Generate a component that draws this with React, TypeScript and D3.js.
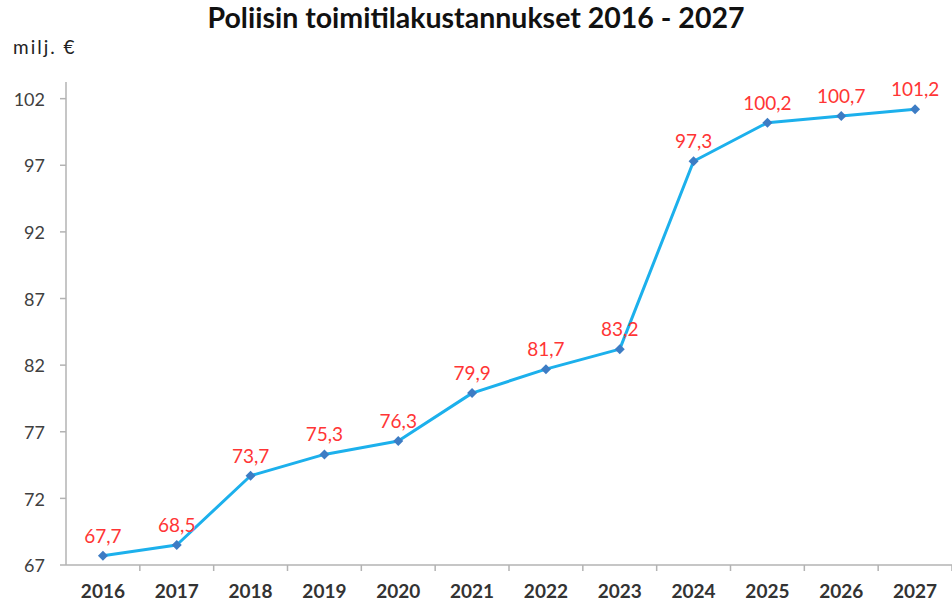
import React from "react";
import * as d3 from "d3";

const width = 952;
const height = 602;
const margin = { top: 82, right: 0, bottom: 37, left: 66 };

const years = ["2016", "2017", "2018", "2019", "2020", "2021", "2022", "2023", "2024", "2025", "2026", "2027"];
const costs = [67.7, 68.5, 73.7, 75.3, 76.3, 79.9, 81.7, 83.2, 97.3, 100.2, 100.7, 101.2];
const yTicks = [67, 72, 77, 82, 87, 92, 97, 102];

const font = "Lato, 'Open Sans', sans-serif";
const fmt = (v: number) => v.toFixed(1).replace(".", ",");

export default function App() {
  const x = d3
    .scaleBand()
    .domain(years)
    .range([margin.left, width - margin.right]);

  const y = d3
    .scaleLinear()
    .domain([67, 103.25])
    .range([height - margin.bottom, margin.top]);

  const cx = (d: string) => (x(d) ?? 0) + x.bandwidth() / 2;

  const line = d3
    .line<number>()
    .x((d, i) => cx(years[i]))
    .y((d) => y(d));

  // square turned 45° gives the Excel style diamond
  const marker = d3.symbol().type(d3.symbolSquare).size(50)();
  const baseY = y(67);

  return (
    <svg
      width={width}
      height={height}
      style={{ position: "absolute", left: 0, top: 0, background: "#fff" }}
      fontFamily={font}
    >
      <text x={476} y={28} textAnchor="middle" fontSize={28.5} fontWeight="bold" fill="#111">
        Poliisin toimitilakustannukset 2016 - 2027
      </text>
      <text x={13} y={54} fontSize={19} letterSpacing={2} fill="#222">
        milj. €
      </text>

      {/* y axis */}
      <line x1={margin.left} x2={margin.left} y1={margin.top} y2={baseY} stroke="#b3b3b3" strokeWidth={1.5} />
      {yTicks.map((t) => (
        <g key={t}>
          <line x1={margin.left - 6} x2={margin.left} y1={y(t)} y2={y(t)} stroke="#b3b3b3" strokeWidth={1.5} />
          <text x={45} y={y(t)} dy="0.4em" textAnchor="end" fontSize={18} fill="#404040">
            {t}
          </text>
        </g>
      ))}

      {/* x axis */}
      <line x1={margin.left} x2={width - margin.right} y1={baseY} y2={baseY} stroke="#b3b3b3" strokeWidth={1.5} />
      {years.map((yr) => (
        <g key={yr}>
          <line
            x1={(x(yr) ?? 0) + x.bandwidth()}
            x2={(x(yr) ?? 0) + x.bandwidth()}
            y1={baseY}
            y2={baseY + 6}
            stroke="#b3b3b3"
            strokeWidth={1.5}
          />
          <text x={cx(yr)} y={598} textAnchor="middle" fontSize={19} fontWeight="bold" fill="#333">
            {yr}
          </text>
        </g>
      ))}

      <path d={line(costs) ?? ""} fill="none" stroke="#1cb0ec" strokeWidth={3} strokeLinejoin="round" />

      {costs.map((v, i) => (
        <g key={years[i]}>
          <path
            d={marker ?? ""}
            transform={`translate(${cx(years[i])},${y(v)}) rotate(45)`}
            fill="#3d7cc4"
          />
          <text x={cx(years[i])} y={y(v) - 13} textAnchor="middle" fontSize={19} fill="#ff3535">
            {fmt(v)}
          </text>
        </g>
      ))}
    </svg>
  );
}
